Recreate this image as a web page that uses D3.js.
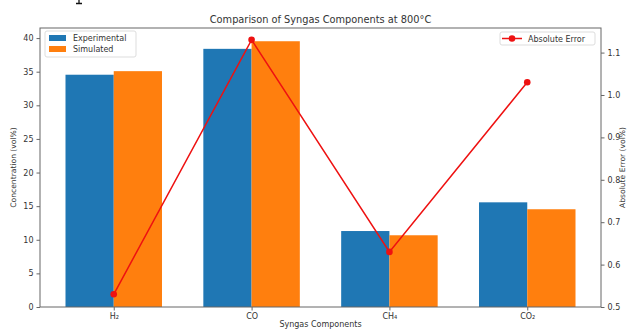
<!DOCTYPE html>
<html><head><meta charset="utf-8">
<script src="https://cdn.jsdelivr.net/npm/d3@7"></script>
<style>body{margin:0;background:#fff}svg{display:block}text{font-family:"DejaVu Sans",sans-serif}</style>
</head><body><svg id="c" width="628" height="329"></svg>
<script>
const categories = ["H₂", "CO", "CH₄", "CO₂"];
const experimental = [34.55, 38.4, 11.3, 15.57];
const simulated = [35.08, 39.53, 10.67, 14.54];
const absError = [0.53, 1.13, 0.63, 1.03];
const leftTicks = [0, 5, 10, 15, 20, 25, 30, 35, 40];
const rightTicks = [0.5, 0.6, 0.7, 0.8, 0.9, 1.0, 1.1];

const svg = d3.select("#c");
const L = 40, R = 601, T = 28, B = 307;
const bw = 0.35;
const x = d3.scaleLinear().domain([-0.535, 3.535]).range([L, R]);
const y = d3.scaleLinear().domain([0, 41.5]).range([B, T]);
const y2 = d3.scaleLinear().domain([0.5, 1.158]).range([B, T]);
const blue = "#1f77b4", orange = "#ff7f0e";

// bars
svg.append("g").selectAll("rect").data(experimental).join("rect")
  .attr("x", (d, i) => x(i - bw)).attr("width", (d, i) => x(i) - x(i - bw))
  .attr("y", d => y(d)).attr("height", d => y(0) - y(d)).attr("fill", blue);
svg.append("g").selectAll("rect").data(simulated).join("rect")
  .attr("x", (d, i) => x(i)).attr("width", (d, i) => x(i + bw) - x(i))
  .attr("y", d => y(d)).attr("height", d => y(0) - y(d)).attr("fill", orange);

// error line
const line = d3.line().x((d, i) => x(i)).y(d => y2(d));
svg.append("path").datum(absError).attr("d", line).attr("fill", "none").attr("stroke", "#ee1111").attr("stroke-width", 1.5);
svg.append("g").selectAll("circle").data(absError).join("circle")
  .attr("cx", (d, i) => x(i)).attr("cy", d => y2(d)).attr("r", 3.3).attr("fill", "#ee1111");

// frame
const ax = "#666";
svg.append("rect").attr("x", L).attr("y", T).attr("width", R - L).attr("height", B - T)
  .attr("fill", "none").attr("stroke", ax).attr("stroke-width", 1);

// axes
const fs = 8;
const gl = svg.append("g").attr("transform", `translate(${L},0)`)
  .call(d3.axisLeft(y).tickValues(leftTicks).tickSize(3.5).tickPadding(3));
const gr = svg.append("g").attr("transform", `translate(${R},0)`)
  .call(d3.axisRight(y2).tickValues(rightTicks).tickSize(3.5).tickPadding(3).tickFormat(d3.format(".1f")));
const gb = svg.append("g").attr("transform", `translate(0,${B})`)
  .call(d3.axisBottom(x).tickValues(d3.range(categories.length)).tickFormat(i => categories[i]).tickSize(3.5).tickPadding(3));
[gl, gr, gb].forEach(g => {
  g.select(".domain").remove();
  g.selectAll("line").attr("stroke", ax);
  g.selectAll("text").attr("font-size", fs).attr("fill", "#333").attr("font-family", "DejaVu Sans");
});

// titles
svg.append("text").attr("x", (L + R) / 2).attr("y", 23).attr("text-anchor", "middle")
  .attr("font-size", 9.8).attr("fill", "#333").text("Comparison of Syngas Components at 800°C");
svg.append("text").attr("x", (L + R) / 2).attr("y", 326.5).attr("text-anchor", "middle")
  .attr("font-size", 8).attr("fill", "#333").text("Syngas Components");
svg.append("text").attr("transform", `translate(16,${(T + B) / 2}) rotate(-90)`).attr("text-anchor", "middle")
  .attr("font-size", 7.6).attr("fill", "#333").text("Concentration (vol%)");
svg.append("text").attr("transform", `translate(625,${(T + B) / 2}) rotate(-90)`).attr("text-anchor", "middle")
  .attr("font-size", 7.6).attr("fill", "#333").text("Absolute Error (vol%)");

// stray mark at top edge (foot of a cropped glyph)
svg.append("path").attr("d", "M79,0V3.5M76,3.5H82").attr("stroke", "#111").attr("stroke-width", 1.3).attr("fill", "none");

// legend left
const lg = svg.append("g");
lg.append("rect").attr("x", 45).attr("y", 31).attr("width", 91).attr("height", 26).attr("rx", 2)
  .attr("fill", "#fff").attr("fill-opacity", 0.8).attr("stroke", "#ddd");
[["Experimental", blue], ["Simulated", orange]].forEach(([t, c], i) => {
  lg.append("rect").attr("x", 49).attr("y", 35 + i * 11).attr("width", 17).attr("height", 6).attr("fill", c);
  lg.append("text").attr("x", 73).attr("y", 41 + i * 11).attr("font-size", 8).attr("fill", "#333").text(t);
});
// legend right
const rg = svg.append("g");
rg.append("rect").attr("x", 500).attr("y", 32).attr("width", 95).attr("height", 13).attr("rx", 2)
  .attr("fill", "#fff").attr("fill-opacity", 0.8).attr("stroke", "#ddd");
rg.append("line").attr("x1", 502).attr("x2", 522).attr("y1", 38.5).attr("y2", 38.5).attr("stroke", "#ee1111").attr("stroke-width", 1.5);
rg.append("circle").attr("cx", 512).attr("cy", 38.5).attr("r", 3.3).attr("fill", "#ee1111");
rg.append("text").attr("x", 528).attr("y", 41.5).attr("font-size", 8).attr("fill", "#333").text("Absolute Error");
</script></body></html>
